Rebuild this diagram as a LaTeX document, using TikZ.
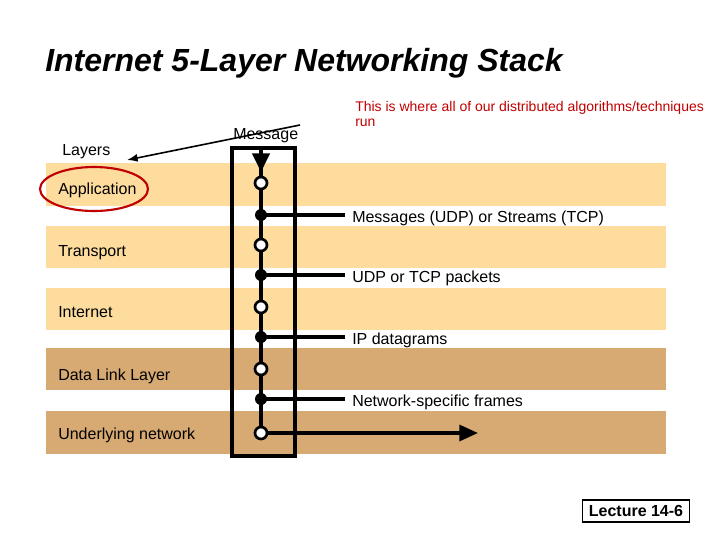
\documentclass[tikz,border=0pt]{standalone}
\usepackage{fontspec}
\setmainfont{Liberation Sans}
\usetikzlibrary{positioning,arrows.meta}
\definecolor{lightband}{HTML}{FDDC9E}
\definecolor{darkband}{HTML}{D8AA73}
\definecolor{notered}{HTML}{C00000}
\tikzset{
  band/.style={fill=#1, draw=none},
  lbl/.style={anchor=west, inner sep=0pt, font=\fontsize{12}{14}\selectfont},
  hole/.style={circle, draw=black, line width=2pt, fill=white, minimum size=9pt, inner sep=0pt},
  dot/.style={circle, fill=black, minimum size=9pt, inner sep=0pt},
  wire/.style={line width=2.4pt},
}
\begin{document}
\begin{tikzpicture}[x=0.75pt,y=-0.75pt]
 \useasboundingbox (0,0) rectangle (720,540);

 % title
 \node[lbl, font=\fontsize{24}{28}\selectfont\bfseries\itshape] (title) at (45,63) {Internet 5-Layer Networking Stack};

 % bands
 \foreach \ya/\yb/\col in {163/206/lightband, 226/268/lightband, 288/330/lightband, 348/390/darkband, 411/454/darkband}
   \fill[band=\col] (46,\ya) rectangle (666,\yb);

 % layer names
 \foreach \y/\name/\txt in {190/app/Application, 253/trn/Transport, 312/inet/Internet, 376/dll/Data Link Layer, 435/und/Underlying network}
   \node[lbl] (\name) at (58,\y) {\txt};
 \draw[notered, line width=1.6pt] (94,189) ellipse [x radius=54, y radius=22];

 % stack box
 \draw[line width=2.4pt] (232,148) rectangle (295,456);
 \coordinate (top) at (261,150);
 \coordinate (bot) at (261,433);
 \draw[wire] (top) -- (bot);
 \draw[wire, -{Triangle[length=14pt,width=13pt]}] (top) -- (261,172);

 % interfaces
 \foreach \y/\name/\txt in {215/i1/Messages (UDP) or Streams (TCP), 275/i2/UDP or TCP packets, 337/i3/IP datagrams, 399/i4/Network-specific frames} {
   \node[dot] (d\name) at (261,\y) {};
   \node[lbl] (t\name) at (352,\y+3) {\txt};
   \draw[wire] (d\name.center) -- (345,\y);
 }
 \coordinate (out) at (478,433);
 \draw[wire, -{Triangle[length=14pt,width=12pt]}] (bot) -- (out);
 \foreach \y/\name in {183/h1, 245/h2, 307/h3, 369/h4, 433/h5}
   \node[hole] (\name) at (261,\y) {};

 % notes
 \node[lbl] (layers) at (62,152) {Layers};
 \node[lbl] (msg) at (233,136) {Message};
 \coordinate (from) at (300,125);
 \coordinate (to) at (127,160);
 \draw[line width=1.2pt, -{Latex[length=8pt]}] (from) -- (to);
 \node[lbl, notered, align=left, font=\fontsize{10.5}{11}\selectfont] (note) at (355,114) {This is where all of our distributed algorithms/techniques\\run};

 % lecture tag
 \node[draw, line width=1.2pt, inner sep=4pt, font=\fontsize{12}{14}\selectfont\bfseries, minimum width=80pt] (lect) at (636,511) {Lecture 14-6};
\end{tikzpicture}
\end{document}
